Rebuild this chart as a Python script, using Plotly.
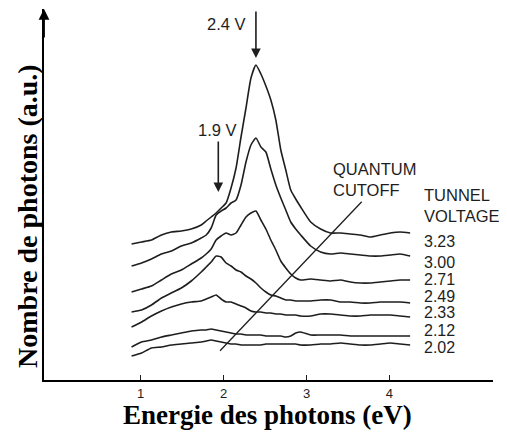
import plotly.graph_objects as go

# Photon energy grid (eV)
energy = [0.89, 1.01, 1.13, 1.25, 1.37, 1.49, 1.61, 1.73, 1.79, 1.85, 1.91, 1.97, 2.03,
          2.09, 2.15, 2.21, 2.27, 2.33, 2.39, 2.45, 2.51, 2.57, 2.63, 2.69, 2.75, 2.81,
          2.87, 2.93, 3.05, 3.17, 3.29, 3.41, 3.53, 3.65, 3.77, 3.89, 4.01, 4.13, 4.25]

# Photon counts (a.u., curves offset) for each tunnel voltage
v323 = [136, 138, 140, 145, 148, 149, 151, 155, 159, 163, 167, 172, 177, 192, 212, 243, 272, 302,
        315, 306, 294, 280, 260, 230, 210, 190, 181, 173, 158, 151, 147, 147, 146, 145, 143, 145,
        147, 148, 147]
v300 = [114, 117, 121, 126, 129, 134, 137, 142, 145, 152, 165, 169, 172, 177, 180, 195, 218, 235,
        242, 233, 228, 211, 195, 182, 170, 158, 151, 145, 134, 128, 126, 127, 126, 125, 124, 124,
        125, 126, 124]
v271 = [88, 91, 94, 100, 106, 110, 116, 122, 126, 131, 140, 144, 147, 145, 147, 155, 163, 167,
        169, 160, 151, 140, 130, 119, 112, 106, 102, 100, 101, 100, 99, 100, 98, 97, 97, 98, 99,
        100, 100]
v249 = [68, 70, 75, 82, 87, 92, 99, 108, 113, 118, 124, 123, 117, 114, 110, 108, 104, 101, 97,
        92, 88, 85, 84, 82, 80, 80, 79, 79, 79, 80, 80, 78, 78, 77, 77, 78, 78, 78, 77]
v233 = [53, 58, 64, 69, 73, 76, 78, 79, 81, 83, 85, 81, 78, 78, 76, 74, 72, 69, 68, 68, 67, 67,
        66, 66, 65, 65, 65, 64, 64, 66, 66, 65, 64, 64, 65, 65, 65, 64, 63]
v212 = [33, 38, 40, 43, 45, 47, 49, 50, 50, 51, 50, 49, 48, 47, 46, 46, 45, 45, 45, 45, 44, 44,
        44, 44, 43, 44, 47, 48, 45, 45, 45, 45, 44, 44, 44, 44, 44, 44, 44]
v202 = [24, 27, 32, 33, 35, 36, 37, 38, 39, 40, 39, 38, 37, 36, 36, 35, 35, 35, 35, 35, 36, 36,
        36, 36, 36, 36, 36, 35, 35, 36, 36, 37, 36, 35, 35, 36, 37, 36, 35]

series = [v323, v300, v271, v249, v233, v212, v202]
voltage_labels = ["3.23", "3.00", "2.71", "2.49", "2.33", "2.12", "2.02"]
label_levels = [139, 118, 101, 84, 67.5, 49.5, 33]

cutoff_energy = [1.957, 3.666]
cutoff_level = [29.3, 178.3]

tick_vals = [1, 2, 3, 4]
tick_text = ["1", "2", "3", "4"]

fig = go.Figure()
ink = "#1e1e1e"
for ys in series:
    fig.add_trace(go.Scatter(x=energy, y=ys, mode="lines",
                             line=dict(color=ink, width=1.6, shape="spline", smoothing=0.5),
                             showlegend=False, hoverinfo="skip"))

fig.add_trace(go.Scatter(x=cutoff_energy, y=cutoff_level, mode="lines",
                         line=dict(color=ink, width=1.3), showlegend=False, hoverinfo="skip"))

sans = "Liberation Sans, Arial, sans-serif"
serif = "Liberation Serif, Times New Roman, serif"
ann = []
for lab, lv in zip(voltage_labels, label_levels):
    ann.append(dict(x=4.39, y=lv, text=lab, showarrow=False, xanchor="left", yanchor="middle",
                    font=dict(family=sans, size=16, color=ink)))
ann.append(dict(x=3.30, y=201, text="QUANTUM<br>CUTOFF", showarrow=False, xanchor="left",
                yanchor="middle", align="left", font=dict(family=sans, size=16.5, color=ink)))
ann.append(dict(x=4.39, y=175, text="TUNNEL<br>VOLTAGE", showarrow=False, xanchor="left",
                yanchor="middle", align="left", font=dict(family=sans, size=16.5, color=ink)))
ann.append(dict(x=2.037, y=356, text="2.4 V", showarrow=False, xanchor="center", yanchor="middle",
                font=dict(family=sans, size=16.5, color=ink)))
ann.append(dict(x=1.926, y=250.5, text="1.9 V", showarrow=False, xanchor="center", yanchor="middle",
                font=dict(family=sans, size=16.5, color=ink)))
# arrows
ann.append(dict(x=2.39, y=322, ax=0, ay=-48, text="", showarrow=True, arrowhead=2,
                arrowsize=1.2, arrowwidth=1.6, arrowcolor=ink, standoff=0))
ann.append(dict(x=1.936, y=188, ax=0, ay=-52, text="", showarrow=True, arrowhead=2,
                arrowsize=1.2, arrowwidth=1.6, arrowcolor=ink, standoff=0))
# y-axis arrowhead
ann.append(dict(x=-0.1665, y=371, ax=0, ay=30, text="", showarrow=True, arrowhead=2,
                arrowsize=1.2, arrowwidth=1.8, arrowcolor="black", standoff=0))
# axis titles
ann.append(dict(xref="paper", yref="paper", x=0.498, y=-0.094, text="<b>Energie des photons (eV)</b>",
                showarrow=False, xanchor="center", yanchor="middle",
                font=dict(family=serif, size=27, color="black")))
ann.append(dict(xref="paper", yref="paper", x=-0.038, y=0.442, text="<b>Nombre de photons (a.u.)</b>",
                showarrow=False, xanchor="center", yanchor="middle", textangle=-90,
                font=dict(family=serif, size=28, color="black")))

# page body has an 8px default margin; margins compensate so the plot area lands at the right place
fig.update_layout(
    width=507, height=432,
    margin=dict(l=36, r=22, t=1, b=60),
    paper_bgcolor="white", plot_bgcolor="white",
    annotations=ann,
    xaxis=dict(range=[-0.1665, 5.2497], showgrid=False, zeroline=False, showline=True,
               linecolor="black", linewidth=2, ticks="inside", ticklen=5, tickwidth=1.2,
               tickcolor=ink, tickvals=tick_vals, ticktext=tick_text, ticklabelstandoff=0,
               tickfont=dict(family=sans, size=13, color=ink)),
    yaxis=dict(range=[0, 371], showgrid=False, zeroline=False, showline=True,
               linecolor="black", linewidth=2, showticklabels=False, ticks=""),
)

fig.write_html("out.html")
